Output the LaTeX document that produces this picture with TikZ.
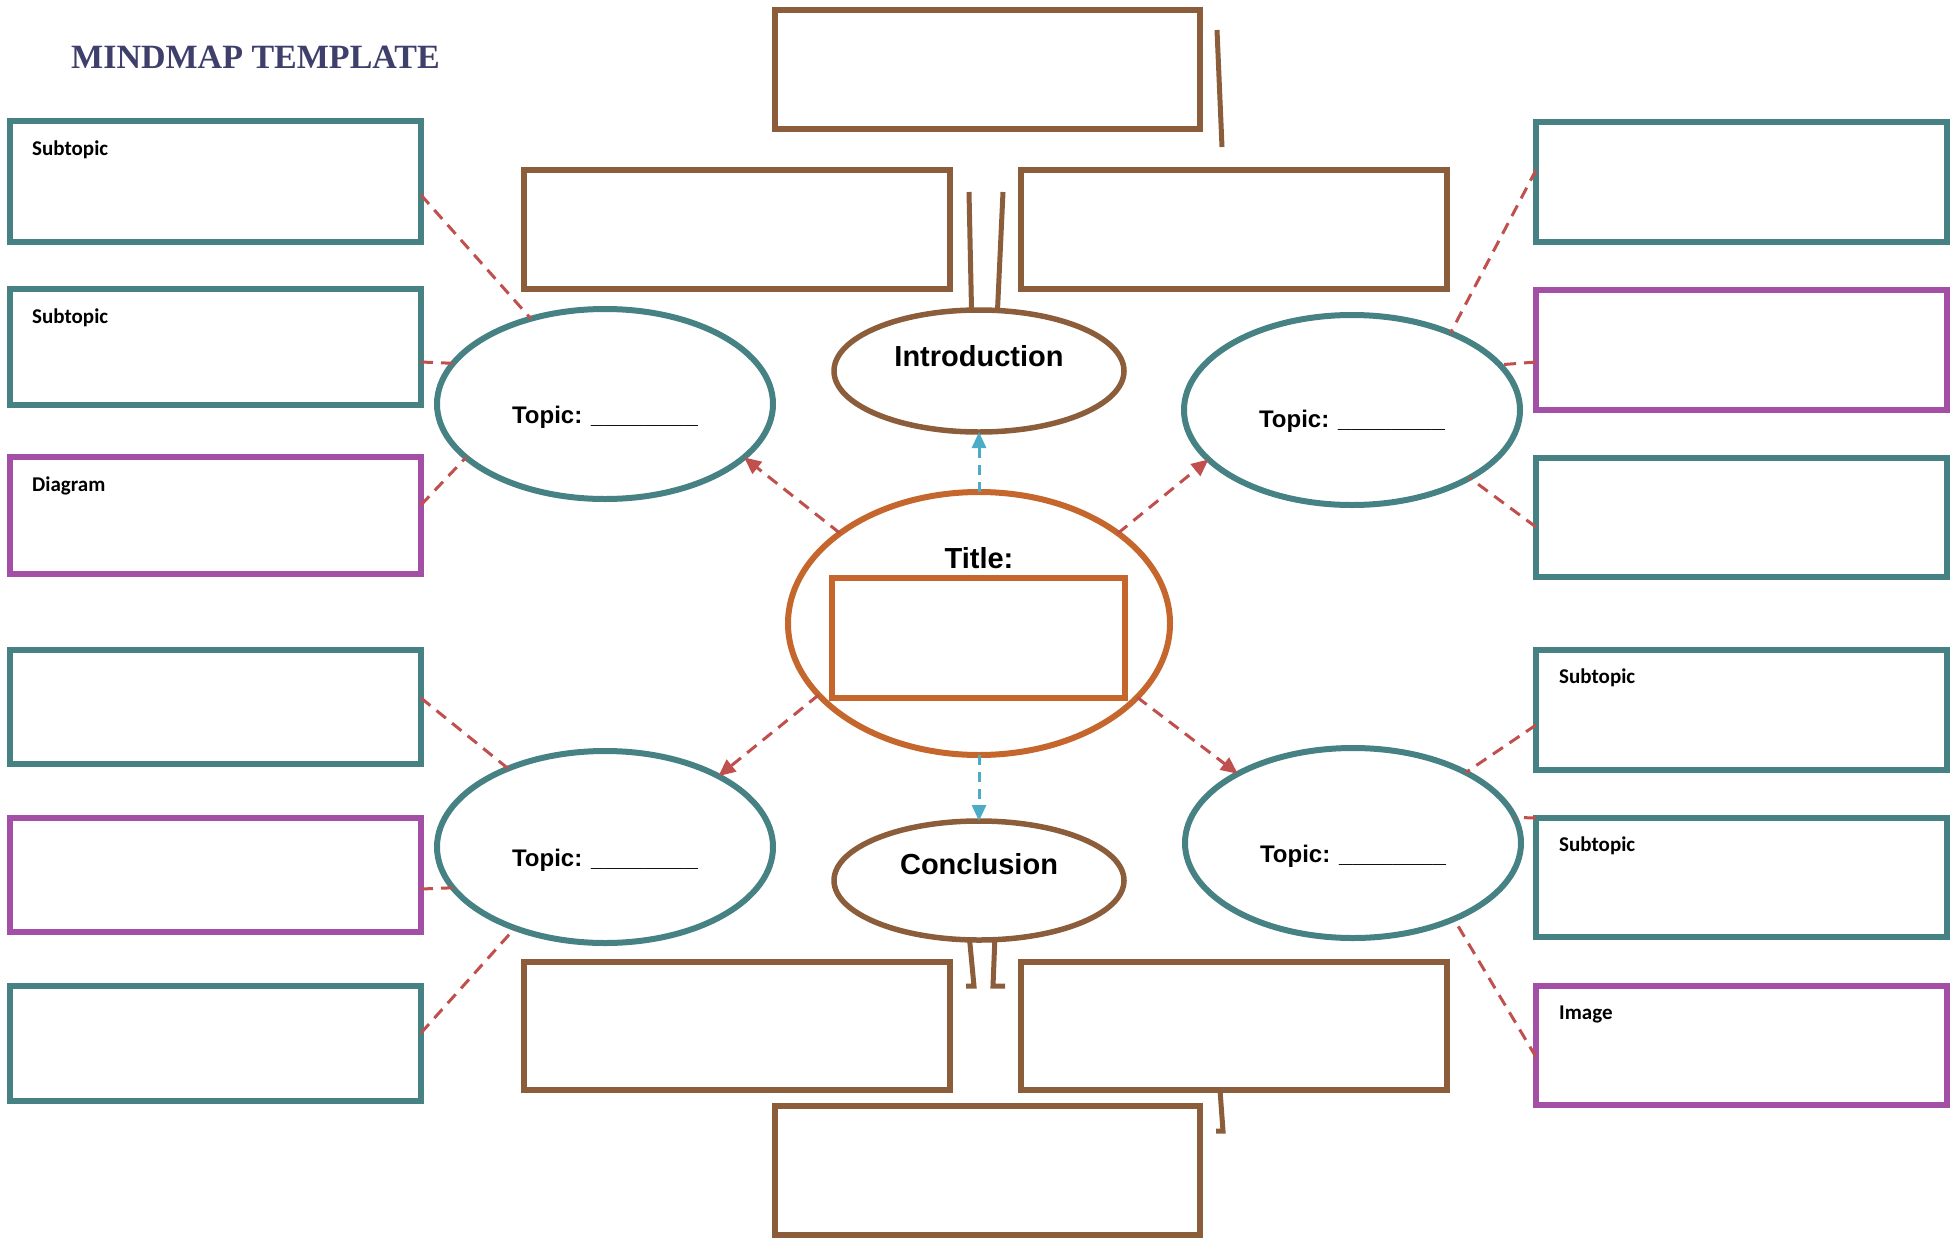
\documentclass[tikz,border=0pt]{standalone}
\usepackage{fontspec}
\setmainfont{Liberation Sans}
\newfontfamily\labelfont{Carlito}
\newfontfamily\headfont{Liberation Serif}
\usetikzlibrary{shapes.geometric,arrows.meta,calc}

\definecolor{mmteal}{HTML}{468184}
\definecolor{mmpurple}{HTML}{A24FA5}
\definecolor{mmbrown}{HTML}{8B5D3B}
\definecolor{mmorange}{HTML}{C5662D}
\definecolor{mmred}{HTML}{C0504D}
\definecolor{mmblue}{HTML}{4BACC6}
\definecolor{mmnavy}{HTML}{3E3F6B}

\tikzset{
    subbox/.style={draw=mmteal, line width=6.5pt, rectangle, inner sep=0pt, outer sep=0pt, minimum width=411pt},
    picbox/.style={subbox, draw=mmpurple},
    notebox/.style={draw=mmbrown, line width=6pt, rectangle, inner sep=0pt, outer sep=0pt},
    topic/.style={draw=mmteal, line width=6pt, ellipse, inner sep=0pt, outer sep=0pt, minimum width=336pt, minimum height=190pt},
    endpart/.style={draw=mmbrown, line width=5.5pt, ellipse, inner sep=0pt, outer sep=0pt, minimum width=290pt},
    topictext/.style={font=\bfseries\fontsize{24}{28}\selectfont, inner sep=0pt, anchor=base},
    bigtext/.style={font=\bfseries\fontsize{29}{34}\selectfont, inner sep=0pt, anchor=base},
    sublabel/.style={font=\labelfont\bfseries\fontsize{21}{25}\selectfont, inner sep=0pt, anchor=base west},
    headline/.style={font=\headfont\bfseries\fontsize{34}{40}\selectfont, text=mmnavy, inner sep=0pt, anchor=base west},
    branch/.style={draw=mmred, line width=3pt, dash pattern=on 12pt off 8pt},
    topicarrow/.style={branch, -{Triangle[length=17pt,width=15pt]}},
    endarrow/.style={draw=mmblue, line width=3pt, dash pattern=on 10pt off 7pt, -{Triangle[length=16pt,width=14pt]}},
    stub/.style={draw=mmbrown, line width=5pt}
}

\begin{document}
\begin{tikzpicture}[x=1pt,y=-1pt]
    \useasboundingbox (0,0) rectangle (1955,1240);

    \node[headline] (head) at (71,68) {MINDMAP TEMPLATE};

    \node[subbox, minimum height=121pt] (L1) at (215.5,181.5) {};
    \node[subbox, minimum height=116pt] (L2) at (215.5,347) {};
    \node[picbox, minimum height=117pt] (L3) at (215.5,515.5) {};
    \node[subbox, minimum height=114pt] (L4) at (215.5,707) {};
    \node[picbox, minimum height=114pt] (L5) at (215.5,875) {};
    \node[subbox, minimum height=115pt] (L6) at (215.5,1043.5) {};

    \node[subbox, minimum height=120pt] (R1) at (1741.5,182) {};
    \node[picbox, minimum height=120pt] (R2) at (1741.5,350) {};
    \node[subbox, minimum height=119pt] (R3) at (1741.5,517.5) {};
    \node[subbox, minimum height=120pt] (R4) at (1741.5,710) {};
    \node[subbox, minimum height=119pt] (R5) at (1741.5,877.5) {};
    \node[picbox, minimum height=119pt] (R6) at (1741.5,1045.5) {};

    \node[sublabel] at ($(L1.north west)+(22,34)$) {Subtopic};
    \node[sublabel] at ($(L2.north west)+(22,34)$) {Subtopic};
    \node[sublabel] at ($(L3.north west)+(22,34)$) {Diagram};
    \node[sublabel] at ($(R4.north west)+(23,33)$) {Subtopic};
    \node[sublabel] at ($(R5.north west)+(23,33)$) {Subtopic};
    \node[sublabel] at ($(R6.north west)+(23,33)$) {Image};

    \node[notebox, minimum width=425pt, minimum height=119pt] (B0) at (987.5,69.5) {};
    \node[notebox, minimum width=426pt, minimum height=119pt] (B1) at (737,229.5) {};
    \node[notebox, minimum width=426pt, minimum height=119pt] (B2) at (1234,229.5) {};
    \node[notebox, minimum width=426pt, minimum height=128pt] (B3) at (737,1026) {};
    \node[notebox, minimum width=426pt, minimum height=128pt] (B4) at (1234,1026) {};
    \node[notebox, minimum width=425pt, minimum height=129pt] (B5) at (987.5,1170.5) {};

    \node[topic] (tl) at (605,404) {};
    \node[topic] (tr) at (1352,410) {};
    \node[topic, minimum height=192pt] (bl) at (605,847) {};
    \node[topic] (br) at (1353,843) {};
    \node[endpart, minimum height=122pt] (intro) at (979,371) {};
    \node[endpart, minimum height=119pt] (concl) at (979,880.5) {};
    \node[draw=mmorange, line width=6pt, ellipse, inner sep=0pt, outer sep=0pt,
        minimum width=382pt, minimum height=263pt] (title) at (979,623.5) {};
    \node[draw=mmorange, line width=6pt, rectangle, inner sep=0pt, outer sep=0pt,
        minimum width=293pt, minimum height=120pt] (titlebox) at (978.5,638) {};

    \node[bigtext] (titletxt) at (979,568) {Title:};
    \node[bigtext] (introtxt) at (979,366) {Introduction};
    \node[bigtext] (concltxt) at (979,874) {Conclusion};
    \node[topictext] (tltxt) at (605,423) {Topic: \_\_\_\_\_\_\_\_};
    \node[topictext] (trtxt) at (1352,427) {Topic: \_\_\_\_\_\_\_\_};
    \node[topictext] (bltxt) at (605,866) {Topic: \_\_\_\_\_\_\_\_};
    \node[topictext] (brtxt) at (1353,862) {Topic: \_\_\_\_\_\_\_\_};

    \draw[topicarrow] (title.147) -- (tl.-21);
    \draw[topicarrow] (title.33) -- (tr.199);
    \draw[topicarrow] (title.204.5) -- (bl.32);
    \draw[topicarrow] (title.335.4) -- (br.149);
    \draw[endarrow] (title.north) -- (intro.south);
    \draw[endarrow] (title.south) -- (concl.north);

    \draw[branch] ($(L1.east)+(0,13.5)$) -- (tl.131);
    \draw[branch] ($(L2.east)+(0,15)$) -- (tl.165);
    \draw[branch] ($(L3.east)+(0,-10.5)$) -- (tl.201);
    \draw[branch] ($(L4.east)+(0,-9)$) -- (bl.141);
    \draw[branch] ($(L5.east)+(0,14)$) -- (bl.195);
    \draw[branch] ($(L6.east)+(0,-10.5)$) -- (bl.222);
    \draw[branch] ($(R1.west)+(0,-12)$) -- (tr.38);
    \draw[branch] ($(R2.west)+(0,12)$) -- (tr.17);
    \draw[branch] ($(R3.west)+(0,9.5)$) -- (tr.-30);
    \draw[branch] ($(R4.west)+(0,15)$) -- (br.32);
    \draw[branch] (R5.north west) -- (br.9);
    \draw[branch] ($(R6.west)+(0,11.5)$) -- (br.-37.6);

    \coordinate (s1) at (1217,30);
    \coordinate (s2) at (1222,147);
    \draw[stub] (s1) -- (s2);
    \coordinate (i1) at (969,192);
    \coordinate (i2) at (1003,192);
    \draw[stub] (i1) -- (intro.97);
    \draw[stub] (i2) -- (intro.73);
    \coordinate (c1) at (974,986);
    \coordinate (c1f) at (966,986);
    \coordinate (c2) at (993,986);
    \coordinate (c2f) at (1005,986);
    \draw[stub] (concl.261) -- (c1) -- (c1f);
    \draw[stub] (concl.285) -- (c2) -- (c2f);
    \coordinate (s3) at (1223,1131);
    \coordinate (s3f) at (1216,1131);
    \draw[stub] ($(B4.south)+(-14,0)$) -- (s3) -- (s3f);
\end{tikzpicture}
\end{document}
